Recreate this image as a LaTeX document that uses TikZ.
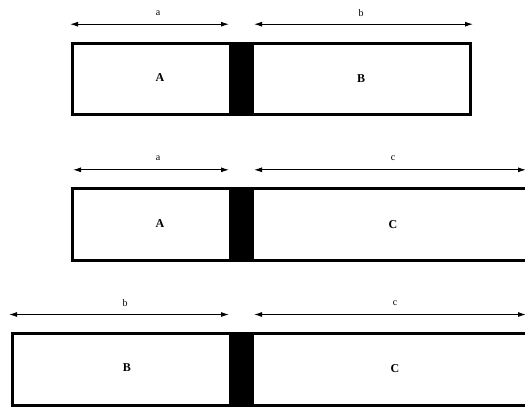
\documentclass[tikz,border=0pt]{standalone}
\usepackage{fontspec}
\setmainfont{Liberation Serif}
\usetikzlibrary{arrows.meta}
\tikzset{
  seg box/.style={draw=black, line width=3pt},
  seg bar/.style={fill=black},
  seg dim/.style={draw=black, line width=1pt, {Latex[length=8pt,width=5pt]}-{Latex[length=8pt,width=5pt]}},
  seg name/.style={font=\fontsize{12}{14}\selectfont\bfseries},
  seg len/.style={font=\fontsize{10}{12}\selectfont},
}

\begin{document}
\begin{tikzpicture}[x=1pt,y=-1pt]
  \useasboundingbox (0,0) rectangle (525,408);
  \clip (0,0) rectangle (525,408);
  % rows: top, box left/right, arrow ends, label x, texts
  \foreach \r/\yt/\xl/\xr/\al/\ar/\xa/\xb/\la/\lb/\na/\nb in {
      1/41.7/71/472/70/473/160/361/a/b/A/B,
      2/187.3/71/532/73/526/160/393/a/c/A/C,
      3/332/11/532/9/526/127/395/b/c/B/C} {
    \draw[seg box] (\xl+1.5,\yt+1.5) rectangle (\xr-1.5,\yt+73);
    \fill[seg bar] (229,\yt) rectangle (254,\yt+74.5);
    \coordinate (d\r l) at (\al,\yt-17.5);
    \coordinate (d\r m) at (229,\yt-17.5);
    \coordinate (d\r n) at (254,\yt-17.5);
    \coordinate (d\r r) at (\ar,\yt-17.5);
    \draw[seg dim] (d\r l) -- (d\r m);
    \draw[seg dim] (d\r n) -- (d\r r);
    \node[seg len] (la\r) at (\xa-2,\yt-29) {\la};
    \node[seg len] (lb\r) at (\xb,\yt-29) {\lb};
    \node[seg name] (na\r) at (\xa,\yt+36) {\na};
    \node[seg name] (nb\r) at (\xb,\yt+37) {\nb};
  }
\end{tikzpicture}
\end{document}
